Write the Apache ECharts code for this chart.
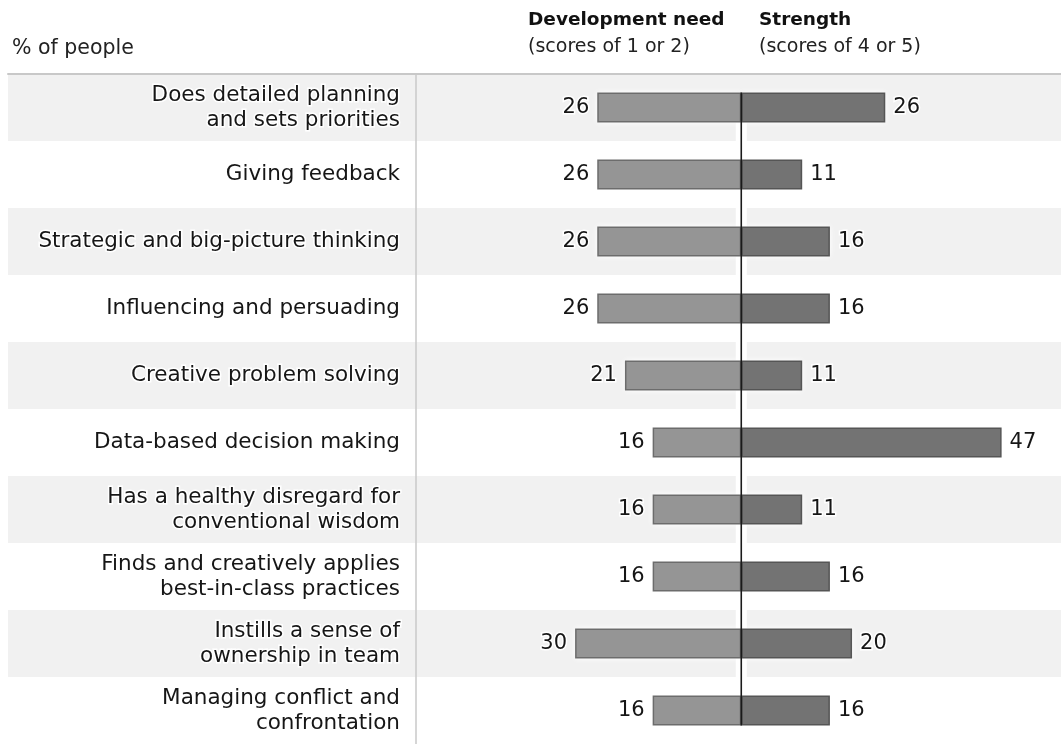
<!DOCTYPE html>
<html>
<head>
<meta charset="utf-8">
<script src="https://cdn.jsdelivr.net/npm/echarts@6/dist/echarts.min.js"></script>
<style>
html,body{margin:0;padding:0;background:#fff;}
#chart{width:1061px;height:744px;}
</style>
</head>
<body>
<div id="chart"></div>
<script>
const categories = [
  'Does detailed planning\nand sets priorities',
  'Giving feedback',
  'Strategic and big-picture thinking',
  'Influencing and persuading',
  'Creative problem solving',
  'Data-based decision making',
  'Has a healthy disregard for\nconventional wisdom',
  'Finds and creatively applies\nbest-in-class practices',
  'Instills a sense of\nownership in team',
  'Managing conflict and\nconfrontation'
];
const developmentNeed = [26, 26, 26, 26, 21, 16, 16, 16, 30, 16];
const strength = [26, 11, 16, 16, 11, 47, 11, 16, 20, 16];
const headerLeft = '% of people';
const headerDev = ['Development need', '(scores of 1 or 2)'];
const headerStr = ['Strength', '(scores of 4 or 5)'];

const FONT = 'DejaVu Sans';
const BAR_W = 30;
const devNeg = developmentNeed.map(v => -v);

const chart = echarts.init(document.getElementById('chart'), null, {renderer: 'canvas'});

function centerLine(color, width) {
  return function (params, api) {
    const a = api.coord([0, 0]);
    const b = api.coord([0, categories.length - 1]);
    const h = BAR_W / 2;
    return {
      type: 'line',
      shape: {x1: a[0], y1: a[1] - h, x2: b[0], y2: b[1] + h},
      style: {stroke: color, lineWidth: width}
    };
  };
}

const haloStyle = {color: '#fff', borderColor: '#fff', borderWidth: 6, shadowColor: '#fff', shadowBlur: 6};

const option = {
  backgroundColor: '#fff',
  animation: false,
  grid: [
    {left: 8, right: 0, top: 74, bottom: 0},
    {left: 420, right: 4, top: 74, bottom: 0}
  ],
  xAxis: [
    {gridIndex: 0, type: 'value', min: 0, max: 1, position: 'top',
     axisLine: {show: true, lineStyle: {color: '#c8c8c8', width: 2}},
     axisTick: {show: false}, axisLabel: {show: false}, splitLine: {show: false}},
    {gridIndex: 1, type: 'value', min: -58, max: 57,
     axisLine: {show: false}, axisTick: {show: false}, axisLabel: {show: false}, splitLine: {show: false}}
  ],
  yAxis: [
    {gridIndex: 0, type: 'category', data: categories, inverse: true,
     axisLine: {show: false}, axisTick: {show: false}, axisLabel: {show: false},
     splitLine: {show: false},
     splitArea: {show: true, areaStyle: {color: ['#f1f1f1', 'rgba(255,255,255,0)']}}},
    {gridIndex: 1, type: 'category', data: categories, inverse: true,
     axisLine: {show: false}, axisTick: {show: false},
     axisLabel: {show: true, margin: 20, fontFamily: FONT, fontSize: 21.5, lineHeight: 25,
       color: '#161616', align: 'right', textBorderColor: '#fff', textBorderWidth: 3},
     splitLine: {show: false}}
  ],
  series: [
    {type: 'bar', xAxisIndex: 0, yAxisIndex: 0, data: [], silent: true},
    {type: 'custom', xAxisIndex: 1, yAxisIndex: 1, z: 1, silent: true,
     data: [[0, 0]], renderItem: centerLine('#fff', 11)},
    {type: 'bar', xAxisIndex: 1, yAxisIndex: 1, z: 1, data: devNeg, barWidth: BAR_W, barGap: '-100%',
     itemStyle: haloStyle, silent: true},
    {type: 'bar', xAxisIndex: 1, yAxisIndex: 1, z: 1, data: strength, barWidth: BAR_W, barGap: '-100%',
     itemStyle: haloStyle, silent: true},
    {name: 'Development need', type: 'bar', xAxisIndex: 1, yAxisIndex: 1, z: 2,
     data: devNeg, barWidth: BAR_W, barGap: '-100%',
     itemStyle: {color: '#959595', borderColor: '#6c6c6c', borderWidth: 1.5},
     label: {show: true, position: 'left', distance: 8, fontFamily: FONT, fontSize: 21, color: '#161616',
       textBorderColor: '#fff', textBorderWidth: 3, formatter: p => Math.abs(p.value)}},
    {name: 'Strength', type: 'bar', xAxisIndex: 1, yAxisIndex: 1, z: 2,
     data: strength, barWidth: BAR_W, barGap: '-100%',
     itemStyle: {color: '#737373', borderColor: '#555555', borderWidth: 1.5},
     label: {show: true, position: 'right', distance: 8, fontFamily: FONT, fontSize: 21, color: '#161616',
       textBorderColor: '#fff', textBorderWidth: 3}},
    {type: 'custom', xAxisIndex: 1, yAxisIndex: 1, z: 3, silent: true,
     data: [[0, 0]], renderItem: centerLine('#1a1a1a', 1.6)}
  ],
  graphic: [
    {type: 'line', shape: {x1: 416, y1: 75, x2: 416, y2: 744}, style: {stroke: '#c8c8c8', lineWidth: 1.5}, z: 5},
    {type: 'text', left: 12, top: 38, style: {text: headerLeft, font: '20.5px "DejaVu Sans"', fill: '#222'}},
    {type: 'text', left: 528, top: 11, style: {text: headerDev[0], font: 'bold 18.5px "DejaVu Sans"', fill: '#111'}},
    {type: 'text', left: 528, top: 38, style: {text: headerDev[1], font: '19px "DejaVu Sans"', fill: '#222'}},
    {type: 'text', left: 759, top: 11, style: {text: headerStr[0], font: 'bold 18.5px "DejaVu Sans"', fill: '#111'}},
    {type: 'text', left: 759, top: 38, style: {text: headerStr[1], font: '19px "DejaVu Sans"', fill: '#222'}}
  ]
};
chart.setOption(option);
</script>
</body>
</html>
